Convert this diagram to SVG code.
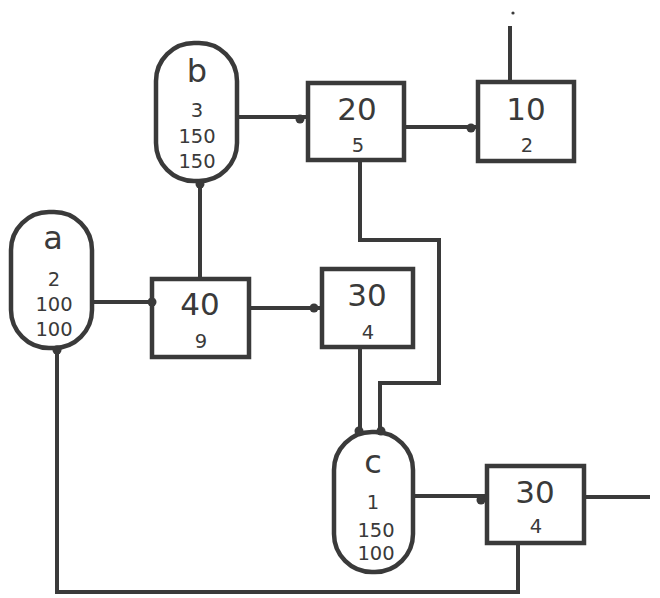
<svg xmlns="http://www.w3.org/2000/svg" width="660" height="598" viewBox="0 0 660 598">
<style>
.n{fill:#fff;stroke:#3a3a3a;stroke-width:4.5}
.w{fill:none;stroke:#3a3a3a;stroke-width:4;stroke-linejoin:miter}
.d{fill:#3a3a3a}
.big{font-family:"DejaVu Sans","Liberation Sans",sans-serif;font-size:31px;fill:#3a3a3a;text-anchor:middle}
.ltr{font-family:"DejaVu Sans","Liberation Sans",sans-serif;font-size:32px;fill:#3a3a3a;text-anchor:middle}
.sm{font-family:"DejaVu Sans","Liberation Sans",sans-serif;font-size:19.5px;fill:#3a3a3a;text-anchor:middle}
</style>
<rect width="660" height="598" fill="#fff"/>
<g id="connectors">
<path class="w" d="M92 302H152"/>
<path class="w" d="M200 183V278"/>
<path class="w" d="M250 308H322"/>
<path class="w" d="M237 117H308"/>
<path class="w" d="M405 127H477"/>
<path class="w" d="M510 82V26"/>
<path class="w" d="M360 160V240H439V383H380V432"/>
<path class="w" d="M360 348V432"/>
<path class="w" d="M413 496H487"/>
<path class="w" d="M585 497H650"/>
<path class="w" d="M518 543V592H57V347"/>
<circle class="d" cx="513" cy="13" r="1.6"/>
</g>
<g id="a">
<rect class="n" x="11" y="212" width="81" height="136" rx="38"/>
<text class="ltr" x="53" y="249">a</text>
<text class="sm" x="54" y="286">2</text>
<text class="sm" x="54" y="311">100</text>
<text class="sm" x="54" y="336">100</text>
<circle class="d" cx="57" cy="350" r="4.5"/>
</g>
<g id="b">
<rect class="n" x="156" y="43" width="81" height="138" rx="38"/>
<text class="ltr" x="197" y="82">b</text>
<text class="sm" x="197" y="117">3</text>
<text class="sm" x="197" y="143">150</text>
<text class="sm" x="197" y="168">150</text>
<circle class="d" cx="200" cy="184" r="4.5"/>
</g>
<g id="box40">
<rect class="n" x="152" y="279" width="97" height="78"/>
<text class="big" x="200" y="315">40</text>
<text class="sm" x="201" y="348">9</text>
<circle class="d" cx="152" cy="302" r="4.5"/>
</g>
<g id="box30a">
<rect class="n" x="322" y="269" width="91" height="78"/>
<text class="big" x="367" y="306">30</text>
<text class="sm" x="368" y="339">4</text>
<circle class="d" cx="314" cy="308" r="4.5"/>
</g>
<g id="box20">
<rect class="n" x="308" y="83" width="96" height="77"/>
<text class="big" x="357" y="120">20</text>
<text class="sm" x="358" y="152">5</text>
<circle class="d" cx="300" cy="119" r="4.5"/>
</g>
<g id="box10">
<rect class="n" x="478" y="82" width="96" height="79"/>
<text class="big" x="526" y="120">10</text>
<text class="sm" x="527" y="152">2</text>
<circle class="d" cx="471" cy="128" r="4.5"/>
</g>
<g id="c">
<rect class="n" x="334" y="432" width="79" height="140" rx="38"/>
<text class="ltr" x="373" y="473">c</text>
<text class="sm" x="373" y="509">1</text>
<text class="sm" x="376" y="537">150</text>
<text class="sm" x="376" y="560">100</text>
<circle class="d" cx="359" cy="431" r="4.5"/>
<circle class="d" cx="381" cy="431" r="4.5"/>
</g>
<g id="box30b">
<rect class="n" x="487" y="466" width="97" height="77"/>
<text class="big" x="535" y="503">30</text>
<text class="sm" x="536" y="533">4</text>
<circle class="d" cx="481" cy="500" r="4.5"/>
</g>
</svg>
